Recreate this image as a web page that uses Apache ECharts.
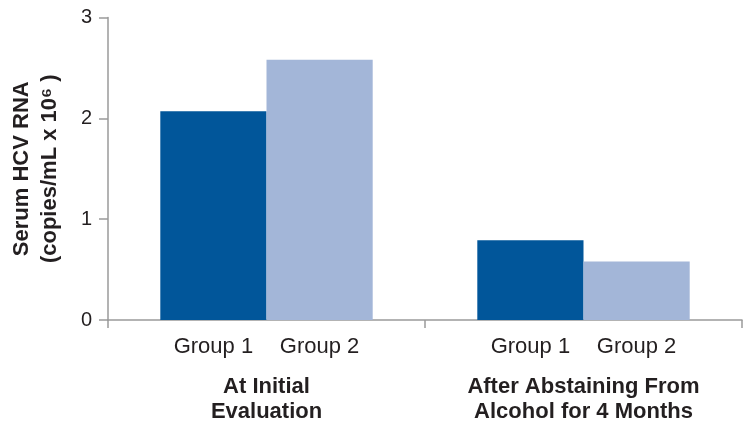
<!DOCTYPE html>
<html>
<head>
<meta charset="utf-8">
<script src="https://cdn.jsdelivr.net/npm/echarts@6/dist/echarts.min.js"></script>
<style>html,body{margin:0;padding:0;background:#fff}#c{width:754px;height:433px}</style>
</head>
<body>
<div id="c"></div>
<script>
var categories = ['At Initial\nEvaluation', 'After Abstaining From\nAlcohol for 4 Months'];
var seriesNames = ['Group 1', 'Group 2'];
var group1 = [2.07, 0.79];
var group2 = [2.58, 0.58];
var yTicks = [0, 1, 2, 3];

var chart = echarts.init(document.getElementById('c'));
var font = 'Liberation Sans, Arial, Helvetica, sans-serif';
var txt = '#231f20';
var axisGray = '#9a9a9a';
function barSeries(name, data, color) {
  return {
    name: name, type: 'bar', data: data,
    barGap: '0%', barCategoryGap: '33%',
    itemStyle: {color: color},
    label: {show: true, position: 'bottom', distance: 16, formatter: '{a}',
      fontFamily: font, fontSize: 22, color: txt},
    emphasis: {disabled: true}, silent: true
  };
}
chart.setOption({
  animation: false,
  textStyle: {fontFamily: font},
  grid: {left: 106, right: 12, top: 17.5, bottom: 113, containLabel: false},
  xAxis: {
    type: 'category', data: categories,
    axisLine: {lineStyle: {color: axisGray, width: 1.5}},
    axisTick: {show: true, length: 8, alignWithLabel: false, lineStyle: {color: axisGray, width: 1.5}},
    axisLabel: {margin: 54, fontFamily: font, fontSize: 22, fontWeight: 'bold', color: txt, lineHeight: 25, interval: 0}
  },
  yAxis: {
    type: 'value', min: yTicks[0], max: yTicks[yTicks.length - 1], interval: 1,
    splitLine: {show: false},
    axisLine: {show: true, lineStyle: {color: axisGray, width: 1.5}},
    axisTick: {show: true, length: 9, lineStyle: {color: axisGray, width: 1.5}},
    axisLabel: {margin: 16, fontFamily: font, fontSize: 20, color: txt},
    name: 'Serum HCV RNA\n(copies/mL x 10⁶ )',
    nameLocation: 'middle', nameGap: 44, nameRotate: 90,
    nameTextStyle: {fontFamily: font, fontSize: 22, fontWeight: 'bold', color: txt, lineHeight: 28}
  },
  series: [
    barSeries(seriesNames[0], group1, '#01569a'),
    barSeries(seriesNames[1], group2, '#a3b6d8')
  ]
});
</script>
</body>
</html>
